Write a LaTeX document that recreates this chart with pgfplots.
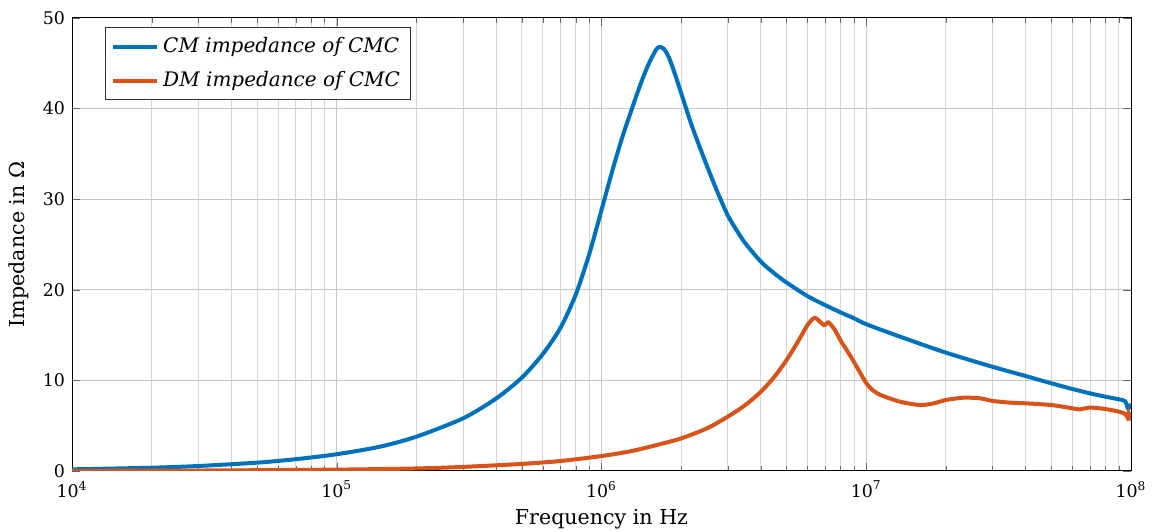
\documentclass[border=0pt]{standalone}
\usepackage{pgfplots}
\pgfplotsset{compat=1.18}
\usepackage{fontspec}
\setmainfont{DejaVu Serif}
\definecolor{cmblue}{RGB}{0,114,189}
\definecolor{dmorange}{RGB}{217,83,25}

\begin{document}
\begin{tikzpicture}
\begin{axis}[
  name=ax,
  scale only axis,
  width=529.5pt, height=226.5pt,
  xmode=log,
  xmin=1e4, xmax=1e8,
  ymin=0, ymax=50,
  xtick={1e4,1e5,1e6,1e7,1e8},
  xticklabels={10\textsuperscript{4},10\textsuperscript{5},10\textsuperscript{6},10\textsuperscript{7},10\textsuperscript{8}},
  ytick={0,10,20,30,40,50},
  /pgf/number format/assume math mode=true,
  tick label style={font=\fontsize{8.7}{10}\selectfont},
  xticklabel style={yshift=-1.5pt},
  label style={font=\fontsize{10.3}{12}\selectfont},
  grid=both,
  major grid style={color=black!22, line width=0.5pt},
  minor grid style={color=black!17, line width=0.5pt},
  tick align=inside,
  major tick length=4pt,
  minor tick length=2.5pt,
  tick style={color=black!60},
  axis line style={black, line width=0.5pt},
  xlabel={Frequency in Hz},
  ylabel={Impedance in Ω},
  xlabel style={yshift=1pt},
  legend style={at={(0.031,0.98)}, anchor=north west, draw=black!80,
    font=\fontsize{10}{12}\selectfont\itshape, inner xsep=3pt, inner ysep=3pt,
    row sep=4pt},
  legend cell align=left,
  legend image code/.code={\draw[#1, line width=2pt] (0pt,0pt) -- (22pt,0pt);},
]
\addplot[cmblue, line width=2pt, smooth, tension=0.45] coordinates {
  (1e4,0.18) (2e4,0.36) (3e4,0.55) (5e4,0.92) (7e4,1.3) (1e5,1.85)
  (1.455e5,2.68) (2e5,3.79) (3e5,5.81) (4e5,8.0) (5e5,10.3) (6e5,12.9)
  (7e5,15.8) (8e5,19.5) (9e5,24.0) (1e6,28.8) (1.1e6,33.2) (1.2e6,36.9)
  (1.3e6,39.9) (1.4e6,42.6) (1.5e6,44.8) (1.6e6,46.4) (1.65e6,46.8)
  (1.72e6,46.6) (1.8e6,45.6) (1.9e6,43.7) (2.0e6,41.7) (2.2e6,38.0)
  (2.5e6,33.7) (2.75e6,30.7) (3e6,28.2) (3.25e6,26.5) (3.5e6,25.1)
  (4e6,23.1) (4.5e6,21.8) (5e6,20.8) (6e6,19.3) (7e6,18.3)
  (8e6,17.5) (9e6,16.85) (1e7,16.2) (1.34e7,14.83) (2e7,13.06) (3e7,11.5)
  (4e7,10.48) (5e7,9.68) (6e7,9.05) (7e7,8.57) (8e7,8.2) (9e7,7.91)
  (9.5e7,7.7) (9.75e7,6.9) (1e8,7.4)
};
\addlegendentry{CM impedance of CMC}
\addplot[dmorange, line width=2pt, smooth, tension=0.45] coordinates {
  (1e4,0.02) (3e4,0.05) (1e5,0.15) (2e5,0.28) (3e5,0.45) (5e5,0.78)
  (7e5,1.1) (1e6,1.65) (1.3e6,2.2) (1.66e6,2.95) (2e6,3.6) (2.5e6,4.7)
  (3e6,6.0) (3.5e6,7.3) (4e6,8.75) (4.5e6,10.4) (5e6,12.25) (5.5e6,14.2)
  (6e6,16.1) (6.4e6,16.9) (6.92e6,16.1) (7.19e6,16.4) (7.6e6,15.6)
  (8e6,14.4) (8.5e6,13.2) (8.9e6,12.25) (9.5e6,10.8) (1e7,9.7)
  (1.05e7,9.0) (1.13e7,8.4) (1.34e7,7.65) (1.6e7,7.28) (1.8e7,7.47)
  (2e7,7.84) (2.33e7,8.09) (2.7e7,8.02) (3e7,7.73) (3.5e7,7.54)
  (4e7,7.47) (5e7,7.28) (6e7,6.92) (6.4e7,6.8) (7e7,7.0) (8e7,6.84)
  (9e7,6.55) (9.5e7,6.3) (9.7e7,5.9) (9.8e7,6.4) (9.9e7,6.0) (1e8,5.6)
};
\addlegendentry{DM impedance of CMC}
\end{axis}
\pgfresetboundingbox
\path ([shift={(-36pt,-30.5pt)}]ax.south west) rectangle ([shift={(11.5pt,9pt)}]ax.north east);
\end{tikzpicture}
\end{document}
